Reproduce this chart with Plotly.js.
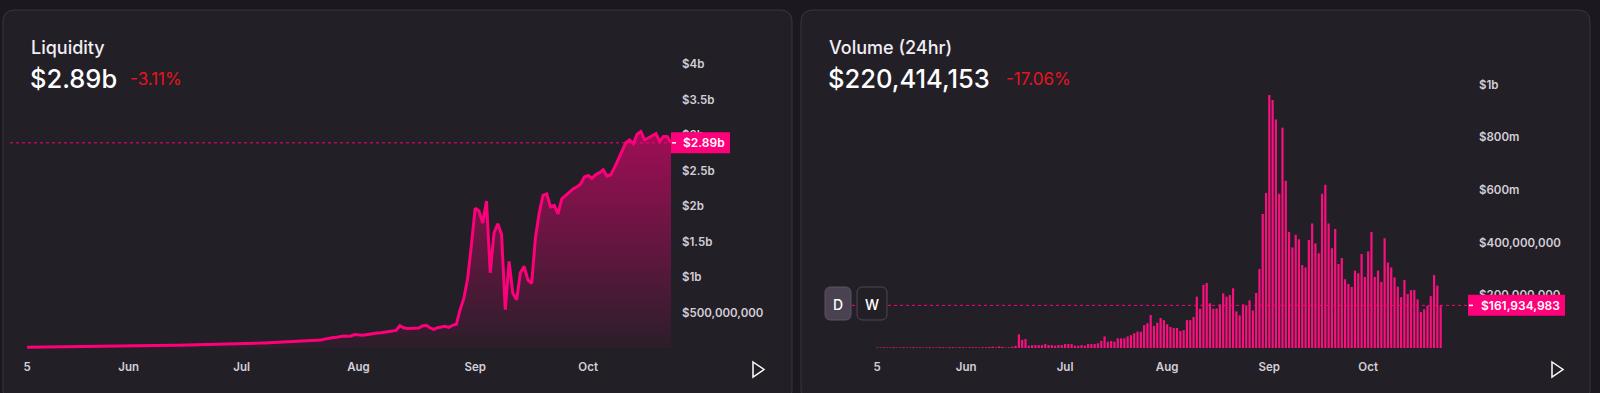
<!DOCTYPE html>
<html><head><meta charset="utf-8">
<script src="https://cdn.plot.ly/plotly-3.0.1.min.js"></script>
<style>html,body{margin:0;padding:0;background:#1b191f;overflow:hidden}#chart{width:1600px;height:393px}</style>
</head><body><div id="chart"></div>
<script>
// ---------- DATA ----------
const startDate = [2025, 4, 5]; // first day shown (May 5)
const tickDates = ['2025-05-05','2025-06-01','2025-07-01','2025-08-01','2025-09-01','2025-10-01'];
const tickLabels = ['5','Jun','Jul','Aug','Sep','Oct'];

// Liquidity, billions USD, one value per day
const liquidityB = [
 0.010,0.011,0.011,0.012,0.012,0.013,0.013,0.014,0.015,0.015,0.016,0.017,0.017,0.018,0.019,0.019,0.020,0.021,0.022,0.022,0.023,0.024,0.025,0.026,0.027,0.027,0.028,
 0.029,0.030,0.030,0.031,0.032,0.032,0.033,0.034,0.035,0.035,0.036,0.037,0.038,0.038,0.039,0.040,0.041,0.042,0.042,0.043,0.044,0.045,0.046,0.047,0.048,0.049,0.050,0.051,0.052,0.054,
 0.055,0.058,0.061,0.064,0.067,0.069,0.072,0.075,0.077,0.080,0.083,0.085,0.088,0.090,0.093,0.096,0.099,0.102,0.104,0.106,0.108,0.113,0.125,0.138,0.145,0.150,0.163,0.169,0.166,0.170,0.190,
 0.185,0.180,0.188,0.198,0.207,0.210,0.216,0.225,0.232,0.240,0.248,0.314,0.285,0.276,0.278,0.280,0.282,0.310,0.320,0.285,0.264,0.285,0.300,0.305,0.290,0.320,0.334,0.540,0.700,0.980,1.450,
 1.97,1.93,1.76,2.07,1.06,1.62,1.75,1.60,0.54,1.22,0.77,0.68,1.06,1.15,0.96,0.91,1.55,1.90,2.15,2.17,1.99,2.01,1.89,2.10,2.15,2.20,2.24,2.27,2.31,2.41,
 2.43,2.39,2.44,2.47,2.51,2.42,2.44,2.54,2.66,2.78,2.89,2.93,2.88,3.01,3.05,2.93,2.96,3.00,3.02,2.91,2.98,2.98,2.89
];

// Daily volume, millions USD
const volumeM = [
 2,2,3,2,2,3,2,2,3,2,
 2,3,2,3,2,2,3,2,2,3,
 3,2,3,3,2,3,3,2,3,3,
 3,2,3,3,4,5,3,6,4,2,
 3,5,8,52,31,34,9,11,11,11,
 11,15,11,11,9,11,11,15,15,15,
 9,9,11,9,15,15,15,18,27,44,
 24,27,24,37,37,37,44,49,56,62,
 62,87,94,125,84,96,114,106,90,80,
 76,76,65,68,106,106,118,195,149,240,
 247,170,149,150,166,208,195,201,227,139,
 124,166,162,181,143,209,300,509,589,961,
 942,868,586,837,635,441,382,430,413,315,
 306,410,473,397,360,586,620,473,379,452,
 319,342,261,243,232,294,284,357,270,367,
 441,270,294,251,417,325,306,268,233,193,
 258,205,220,220,185,137,147,161,197,277,
 237,161.934983
];

const liqTickVals = [0.5,1,1.5,2,2.5,3,3.5,4];
const liqTickText = ['$500,000,000','$1b','$1.5b','$2b','$2.5b','$3b','$3.5b','$4b'];
const volTickVals = [200,400,600,800,1000];
const volTickText = ['$200,000,000','$400,000,000','$600m','$800m','$1b'];

const liqTitle = 'Liquidity', liqValue = '$2.89b', liqChange = '-3.11%';
const volTitle = 'Volume (24hr)', volValue = '$220,414,153', volChange = '-17.06%';
const intervalButtons = ['D','W'];

// ---------- HELPERS ----------
const W = 1600, H = 393, DAY = 86400000;
const t0 = Date.UTC(startDate[0], startDate[1], startDate[2]);
function dateAt(n){ return new Date(t0 + n*DAY).toISOString().replace('T',' ').replace('Z',''); }
const X = px => px / W;
const Y = py => 1 - py / H;
const datesLiq = liquidityB.map((_, i) => dateAt(i));
const datesVol = volumeM.map((_, i) => dateAt(i));
const lastLiq = liquidityB[liquidityB.length-1];
const lastVol = volumeM[volumeM.length-1];
const lastVolText = '$' + Math.round(lastVol*1e6).toLocaleString('en-US');
const lastLiqText = '$' + lastLiq.toFixed(2) + 'b';

function rrect(x0,y0,x1,y1,r){
  return `M${X(x0+r)},${Y(y0)} L${X(x1-r)},${Y(y0)} Q${X(x1)},${Y(y0)} ${X(x1)},${Y(y0+r)} L${X(x1)},${Y(y1-r)} Q${X(x1)},${Y(y1)} ${X(x1-r)},${Y(y1)} L${X(x0+r)},${Y(y1)} Q${X(x0)},${Y(y1)} ${X(x0)},${Y(y1-r)} L${X(x0)},${Y(y0+r)} Q${X(x0)},${Y(y0)} ${X(x0+r)},${Y(y0)} Z`;
}
function tri(x0,y0,x1,y1){
  return `M${X(x0)},${Y(y0)} L${X(x1)},${Y((y0+y1)/2)} L${X(x0)},${Y(y1)} Z`;
}

const FONT = 'Inter, "Noto Sans", sans-serif';
const PINK = '#ff007a';
const tickFont = {family: FONT, size: 11.5, color: '#d3cfd8', weight: 600};

// ---------- TRACES ----------
const traces = [
  {
    type: 'scatter', mode: 'lines', x: datesLiq, y: liquidityB,
    xaxis: 'x', yaxis: 'y',
    line: {color: PINK, width: 3},
    fill: 'tozeroy',
    fillgradient: {type: 'vertical', start: 0, stop: Math.max(...liquidityB),
      colorscale: [[0, 'rgba(255,0,122,0.04)'], [1, 'rgba(255,0,122,0.57)']]},
    hoverinfo: 'skip'
  },
  {
    type: 'bar', x: datesVol, y: volumeM,
    xaxis: 'x2', yaxis: 'y2',
    marker: {color: '#f8107e', line: {width: 0}},
    hoverinfo: 'skip'
  }
];

// ---------- LAYOUT ----------
const shapes = [
  {type:'path', layer:'below', xref:'paper', yref:'paper', path: rrect(3,10,792,402,12), fillcolor:'#231f27', line:{color:'#3a3440', width:1}},
  {type:'path', layer:'below', xref:'paper', yref:'paper', path: rrect(801,10,1590,402,12), fillcolor:'#231f27', line:{color:'#3a3440', width:1}},
  // current value guide lines
  {type:'line', layer:'above', xref:'paper', yref:'y', x0:X(10), x1:X(671), y0:lastLiq, y1:lastLiq, line:{color:PINK, width:1, dash:'dot'}},
  {type:'line', layer:'above', xref:'paper', yref:'y2', x0:X(840), x1:X(1468), y0:lastVol, y1:lastVol, line:{color:PINK, width:1, dash:'3px,3px'}},
  // value tags
  {type:'rect', layer:'above', xref:'paper', yref:'y', ysizemode:'pixel', yanchor:lastLiq, x0:X(671), x1:X(730), y0:-10.5, y1:10.5, fillcolor:PINK, line:{width:0}},
  {type:'line', layer:'above', xref:'paper', yref:'y', ysizemode:'pixel', yanchor:lastLiq, x0:X(672), x1:X(676), y0:0, y1:0, line:{color:'#ffffff', width:1.5}},
  {type:'rect', layer:'above', xref:'paper', yref:'y2', ysizemode:'pixel', yanchor:lastVol, x0:X(1468), x1:X(1565), y0:-10.5, y1:10.5, fillcolor:PINK, line:{width:0}},
  {type:'line', layer:'above', xref:'paper', yref:'y2', ysizemode:'pixel', yanchor:lastVol, x0:X(1469), x1:X(1473), y0:0, y1:0, line:{color:'#ffffff', width:1.5}},
  // D / W buttons
  {type:'path', layer:'above', xref:'paper', yref:'paper', path: rrect(825,287,851,320,6), fillcolor:'#4a4251', line:{color:'#5d5564', width:1}},
  {type:'path', layer:'above', xref:'paper', yref:'paper', path: rrect(857,287,887,320,6), fillcolor:'#231f27', line:{color:'#4e4755', width:1}},
  // play arrows
  {type:'path', layer:'above', xref:'paper', yref:'paper', path: tri(753,362,764,377), fillcolor:'rgba(0,0,0,0)', line:{color:'#ffffff', width:1.5}},
  {type:'path', layer:'above', xref:'paper', yref:'paper', path: tri(1552,362,1563,377), fillcolor:'rgba(0,0,0,0)', line:{color:'#ffffff', width:1.5}}
];

function txt(text, x, y, size, color, weight, extra){
  return Object.assign({text, xref:'paper', yref:'paper', x:X(x), y:Y(y), xanchor:'left', yanchor:'middle',
    showarrow:false, font:{family:FONT, size, color, weight}}, extra||{});
}
const annotations = [
  txt(liqTitle, 29, 47, 18, '#f1eef4', 500),
  txt(liqValue, 28, 78, 25.5, '#ffffff', 500),
  txt(liqChange, 128, 79, 17, '#e8141f', 400),
  txt(volTitle, 827, 47, 18, '#f1eef4', 500),
  txt(volValue, 826, 78, 25.5, '#ffffff', 500),
  txt(volChange, 1004, 79, 17, '#e8141f', 400),
  {text: lastLiqText, xref:'paper', yref:'y', x:X(681), y:lastLiq, xanchor:'left', yanchor:'middle', showarrow:false,
   font:{family:FONT, size:12, color:'#ffffff', weight:600}},
  {text: lastVolText, xref:'paper', yref:'y2', x:X(1479), y:lastVol, xanchor:'left', yanchor:'middle', showarrow:false,
   font:{family:FONT, size:12, color:'#ffffff', weight:600}},
  Object.assign(txt(intervalButtons[0], 838, 304, 14, '#ffffff', 500), {xanchor:'center'}),
  Object.assign(txt(intervalButtons[1], 872, 304, 14, '#ffffff', 500), {xanchor:'center'})
];

const commonX = {type:'date', showgrid:false, zeroline:false, showline:false, ticks:'',
  tickvals: tickDates, ticktext: tickLabels, tickfont: tickFont, ticklabelstandoff: 8, fixedrange:true};
const commonY = {side:'right', showgrid:false, zeroline:false, showline:false, ticks:'', tickfont: tickFont,
  ticklabelstandoff: 10, fixedrange:true};

const layout = {
  width: W, height: H, margin: {l:0, r:0, t:0, b:0, pad:0},
  paper_bgcolor: '#1b191f', plot_bgcolor: 'rgba(0,0,0,0)',
  showlegend: false, bargap: 0.33, hovermode: false,
  xaxis: Object.assign({}, commonX, {domain:[X(10), X(671)], anchor:'y', range:[dateAt(-4.52), dateAt(171.0)]}),
  yaxis: Object.assign({}, commonY, {domain:[Y(350), Y(55)], anchor:'x', range:[-0.028, 4.127], tickvals: liqTickVals, ticktext: liqTickText}),
  xaxis2: Object.assign({}, commonX, {domain:[X(810), X(1468)], anchor:'y2', range:[dateAt(-20.4), dateAt(179.3)]}),
  yaxis2: Object.assign({}, commonY, {domain:[Y(350), Y(55)], anchor:'x2', range:[-7.6, 1113], tickvals: volTickVals, ticktext: volTickText}),
  shapes, annotations
};

Plotly.newPlot('chart', traces, layout, {displayModeBar:false, staticPlot:true});
</script></body></html>
